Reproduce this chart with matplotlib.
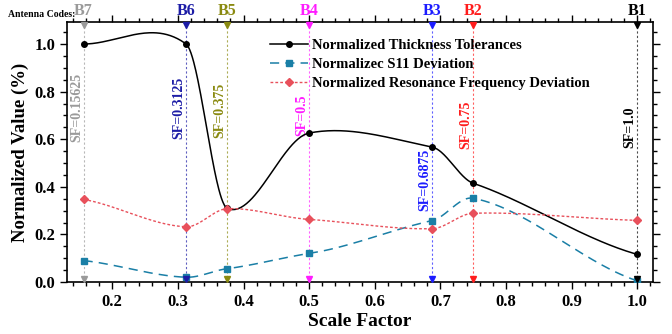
import numpy as np
import matplotlib.pyplot as plt
from matplotlib.ticker import MultipleLocator

plt.rcParams.update({
    "font.family": "Liberation Serif",
    "font.weight": "bold",
    "axes.labelweight": "bold",
})

# Scale factors of the seven antennas
scale_factor = [0.15625, 0.3125, 0.375, 0.5, 0.6875, 0.75, 1.0]
antenna_codes = ["B7", "B6", "B5", "B4", "B3", "B2", "B1"]
code_colors = ["#9a9a9a", "#1c1ca6", "#8a8a10", "#ff1cff", "#1c1cff", "#ff1c1c", "#000000"]
sf_labels = ["SF=0.15625", "SF=0.3125", "SF=0.375", "SF=0.5", "SF=0.6875", "SF=0.75", "SF=1.0"]
sf_label_y = [0.735, 0.73, 0.72, 0.70, 0.43, 0.66, 0.65]

thickness = [1.0, 1.0, 0.31, 0.626, 0.567, 0.415, 0.116]
s11_dev = [0.090, 0.020, 0.056, 0.120, 0.258, 0.352, 0.005]
freq_dev = [0.347, 0.232, 0.308, 0.263, 0.224, 0.289, 0.259]

TENSION = 0.65


def cardinal_spline(x, y, n=60):
    """Smooth Hermite curve through (x, y) with scaled finite-difference tangents."""
    x = np.asarray(x, float)
    y = np.asarray(y, float)
    m = np.empty_like(y)
    m[1:-1] = (y[2:] - y[:-2]) / (x[2:] - x[:-2])
    m[0] = (y[1] - y[0]) / (x[1] - x[0])
    m[-1] = (y[-1] - y[-2]) / (x[-1] - x[-2])
    m *= TENSION
    xs, ys = [], []
    for i in range(len(x) - 1):
        h = x[i + 1] - x[i]
        t = np.linspace(0, 1, n)
        h00 = 2 * t**3 - 3 * t**2 + 1
        h10 = t**3 - 2 * t**2 + t
        h01 = -2 * t**3 + 3 * t**2
        h11 = t**3 - t**2
        xs.append(x[i] + t * h)
        ys.append(h00 * y[i] + h10 * h * m[i] + h01 * y[i + 1] + h11 * h * m[i + 1])
    return np.concatenate(xs), np.concatenate(ys)


fig = plt.figure(figsize=(6.72, 3.34), dpi=100)
ax = fig.add_axes([0.0997, 0.1557, 0.872, 0.778])
ax.set_xlim(0.131, 1.024)
ax.set_ylim(0, 1.092)

# Reference lines and codes for each antenna
for sf, code, col, lab, ly in zip(scale_factor, antenna_codes, code_colors, sf_labels, sf_label_y):
    ax.axvline(sf, color=col, lw=0.8, ls=(0, (2, 2)), alpha=0.7, zorder=1)
    ax.plot(sf, 1.078, marker="v", color=col, ms=5, clip_on=False, zorder=5)
    ax.plot(sf, 0.012, marker="v", color=col, ms=5, clip_on=False, zorder=5)
    ax.text(sf - 0.011, ly, lab, rotation=90, color=col, fontsize=10,
            ha="center", va="center")
    ax.text(sf, 1.14, code, color=col, fontsize=11.5, ha="center", va="center",
            clip_on=False)

fig.text(0.012, 0.957, "Antenna Codes:", fontsize=7, ha="left", va="center")

series = [
    (thickness, "Normalized Thickness Tolerances", "black", "-", "o", 4, 1.1),
    (s11_dev, "Normalizec S11 Deviation", "#1a7fa6", (0, (6, 4)), "s", 4.5, 1.1),
    (freq_dev, "Normalized Resonance Frequency Deviation", "#e8505b", (0, (2, 1.5)), "D", 4, 1.0),
]
handles = []
for ys, lab, col, ls, mk, ms, lw in series:
    sx, sy = cardinal_spline(scale_factor, ys)
    ax.plot(sx, sy, color=col, ls=ls, lw=lw, zorder=3)
    ax.plot(scale_factor, ys, ls="none", marker=mk, color=col, ms=ms, zorder=4)
    h, = ax.plot([], [], color=col, ls=ls, lw=lw, marker=mk, ms=ms)
    handles.append(h)

ax.legend(handles=handles, labels=[s[1] for s in series], loc="upper left",
          bbox_to_anchor=(0.402, 0.885), bbox_transform=fig.transFigure,
          frameon=False, fontsize=10.5, handlelength=2.6, labelspacing=0.42,
          handletextpad=0.3, borderaxespad=0, borderpad=0)

ax.xaxis.set_major_locator(MultipleLocator(0.1))
ax.xaxis.set_minor_locator(MultipleLocator(0.02))
ax.yaxis.set_major_locator(MultipleLocator(0.2))
ax.yaxis.set_minor_locator(MultipleLocator(0.05))
ax.xaxis.set_major_formatter(lambda v, p: f"{v:.1f}")
ax.yaxis.set_major_formatter(lambda v, p: f"{v:.1f}")
ax.tick_params(which="both", top=True, right=True, width=1.0)
ax.tick_params(which="major", length=5, labelsize=12)
ax.tick_params(which="minor", length=3)
for spine in ax.spines.values():
    spine.set_linewidth(1.2)

ax.set_xlabel("Scale Factor", fontsize=14, labelpad=2)
ax.set_ylabel("Normalized Value (%)", fontsize=13.5, labelpad=4)

fig.savefig("out.png", dpi=100)
